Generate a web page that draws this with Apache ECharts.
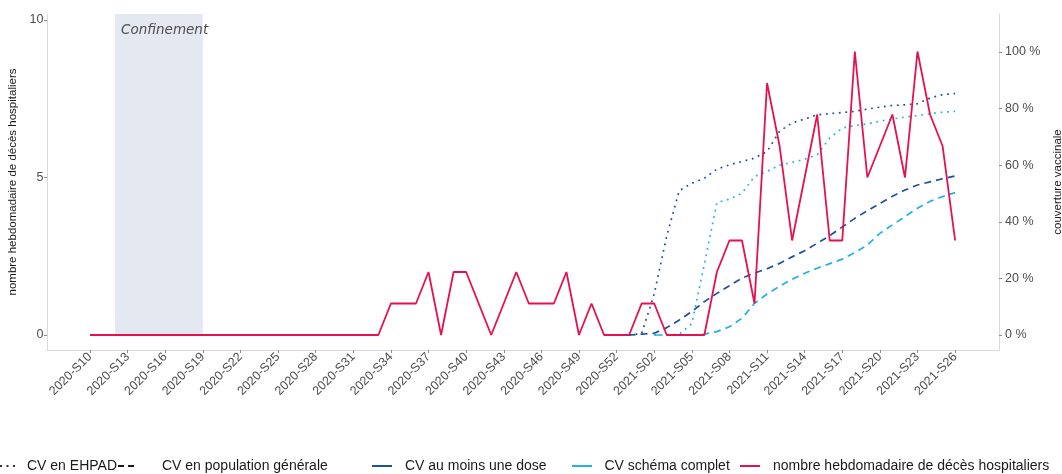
<!DOCTYPE html>
<html><head><meta charset="utf-8">
<script src="https://cdn.jsdelivr.net/npm/echarts@6/dist/echarts.min.js"></script>
<style>html,body{margin:0;padding:0;background:#fff}#c{width:1062px;height:474px}</style>
</head><body><div id="c"></div>
<script>
// ---- categories (ISO weeks) ----
const weeks = [
 '2020-S10','2020-S11','2020-S12','2020-S13','2020-S14','2020-S15','2020-S16','2020-S17','2020-S18','2020-S19',
 '2020-S20','2020-S21','2020-S22','2020-S23','2020-S24','2020-S25','2020-S26','2020-S27','2020-S28','2020-S29',
 '2020-S30','2020-S31','2020-S32','2020-S33','2020-S34','2020-S35','2020-S36','2020-S37','2020-S38','2020-S39',
 '2020-S40','2020-S41','2020-S42','2020-S43','2020-S44','2020-S45','2020-S46','2020-S47','2020-S48','2020-S49',
 '2020-S50','2020-S51','2020-S52','2020-S53','2021-S01','2021-S02','2021-S03','2021-S04','2021-S05','2021-S06',
 '2021-S07','2021-S08','2021-S09','2021-S10','2021-S11','2021-S12','2021-S13','2021-S14','2021-S15','2021-S16',
 '2021-S17','2021-S18','2021-S19','2021-S20','2021-S21','2021-S22','2021-S23','2021-S24','2021-S25','2021-S26'
];
const tickWeeks = ['2020-S10','2020-S13','2020-S16','2020-S19','2020-S22','2020-S25','2020-S28','2020-S31',
 '2020-S34','2020-S37','2020-S40','2020-S43','2020-S46','2020-S49','2020-S52','2021-S02','2021-S05','2021-S08',
 '2021-S11','2021-S14','2021-S17','2021-S20','2021-S23','2021-S26'];
const confinement = ['2020-S12','2020-S19'];

// ---- weekly hospital deaths ----
const deaths = [
 0,0,0,0,0,0,0,0,0,0,
 0,0,0,0,0,0,0,0,0,0,
 0,0,0,0,1,1,1,2,0,2,
 2,1,0,1,2,1,1,1,2,0,
 1,0,0,0,1,1,0,0,0,0,
 2,3,3,1,8,6,3,5,7,3,
 3,9,5,6,7,5,9,7,6,3
];

// ---- vaccine coverage (%) from 2020-S52 ----
const vacWeeks = weeks.slice(weeks.indexOf('2020-S52'));
const cvEhpadDose = [null,0,0.5,14.5,35,51,53.6,55.4,58.6,60.1,61.3,62.5,64.8,72,
 74.9,76.3,77.8,78.2,78.6,79.0,79.8,80.5,81.1,81.3,81.7,83.7,84.9,85.3];
const cvEhpadComplet = [null,null,null,0,0,0.3,4,25,46.8,48,50.1,56,57.8,60,
 61,62.1,63.7,69.6,73.1,74,74.6,75.5,76.3,77,77.5,78.2,78.7,79];
const cvPopDose = [0,0,0.3,0.6,2.6,5.3,8.3,11.8,14.7,17.4,20.1,21.9,23.4,25.3,
 27.6,29.8,32.4,35.1,38.2,41.2,43.9,46.5,49,51.2,53,54.1,55.2,56.2];
const cvPopComplet = [null,null,null,0,0,0,0,0.3,1.2,2.9,5.9,11.2,14.5,17.2,
 19.7,21.8,23.6,25.2,26.8,29.1,31.8,35.9,38.9,41.8,44.8,47.2,48.9,50.3];

const Y_LEFT = {min: -0.476, max: 10.19};
const Y_RIGHT = {min: -5.3, max: 113.4};
const X_RANGE = {min: -3.43, max: 72.5};

const DARK = '#1f4f9f', LIGHT = '#22b1e6', RED = '#e6114f';
const DOTTED = [1.8, 4.7], DASHED = [7, 5];
const FONT = 'Liberation Sans, Arial, sans-serif';
const ICON_DOTTED = 'path://M0,0h2v2h-2z M6.5,0h2v2h-2z M13,0h2v2h-2z';
const ICON_DASHED = 'path://M0,0h6v2h-6z M10,0h6v2h-6z';
const ICON_SOLID = 'path://M0,0h20v2h-20z';

const idx = w => weeks.indexOf(w);
const pairs = (cats, vals) => cats.map((w, k) => [idx(w), vals[k]]).filter(p => p[1] !== null);

const chart = echarts.init(document.getElementById('c'), null, {renderer: 'canvas'});

function vacSeries(name, vals, color, dash, z) {
  return {
    name, type: 'line', yAxisIndex: 1, data: pairs(vacWeeks, vals),
    symbol: 'none', z, silent: true,
    lineStyle: {color, width: 1.7, type: dash},
    itemStyle: {color}
  };
}
function dummy(name, color) {
  return {name, type: 'line', data: [], symbol: 'none', lineStyle: {color}, itemStyle: {color}};
}
function legendItem(name, left, iw, pad, icon) {
  return {
    data: [{name, icon}], left, top: 459, itemWidth: iw, itemHeight: 2, padding: 0,
    selectedMode: false,
    textStyle: {fontSize: 14, color: '#1a1a1a', fontFamily: FONT, padding: [0, 0, 0, pad]}
  };
}

const axisLineStyle = {color: '#d9d9d9', width: 1};
const tickStyle = {color: '#8c8c8c', width: 1};

chart.setOption({
  animation: false,
  backgroundColor: '#fff',
  grid: {left: 47, right: 63, top: 14, bottom: 124, outerBoundsMode: 'none', containLabel: false},
  legend: [
    legendItem('CV en EHPAD', 0, 15, 7, ICON_DOTTED),
    legendItem('CV en population générale', 118, 16, 23, ICON_DASHED),
    legendItem('CV au moins une dose', 372, 20, 8, ICON_SOLID),
    legendItem('CV schéma complet', 572, 21, 7, ICON_SOLID),
    legendItem('nombre hebdomadaire de décès hospitaliers', 740, 20, 8, ICON_SOLID)
  ],
  xAxis: {
    type: 'value', min: X_RANGE.min, max: X_RANGE.max,
    splitLine: {show: false},
    axisLine: {show: true, onZero: false, lineStyle: axisLineStyle},
    axisTick: {show: true, length: 3, lineStyle: tickStyle, customValues: tickWeeks.map(idx)},
    axisLabel: {
      customValues: tickWeeks.map(idx), rotate: 45, margin: 5,
      formatter: v => weeks[Math.round(v)], fontSize: 12.5, color: '#4d4d4d', fontFamily: FONT
    }
  },
  yAxis: [
    {
      type: 'value', min: Y_LEFT.min, max: Y_LEFT.max, position: 'left',
      name: 'nombre hebdomadaire de décès hospitaliers', nameLocation: 'middle', nameRotate: 90, nameGap: 21,
      nameTextStyle: {fontSize: 11.5, color: '#1a1a1a', fontFamily: FONT},
      splitLine: {show: false},
      axisLine: {show: true, onZero: false, lineStyle: axisLineStyle},
      axisTick: {show: true, length: 3, lineStyle: tickStyle, customValues: [0, 5, 10]},
      axisLabel: {customValues: [0, 5, 10], margin: 3.5, fontSize: 12.5, color: '#4d4d4d', fontFamily: FONT}
    },
    {
      type: 'value', min: Y_RIGHT.min, max: Y_RIGHT.max, position: 'right',
      name: 'couverture vaccinale', nameLocation: 'middle', nameRotate: 90, nameGap: 50,
      nameTextStyle: {fontSize: 11.5, color: '#1a1a1a', fontFamily: FONT},
      splitLine: {show: false},
      axisLine: {show: true, onZero: false, lineStyle: axisLineStyle},
      axisTick: {show: true, length: 3, lineStyle: tickStyle, customValues: [0, 20, 40, 60, 80, 100]},
      axisLabel: {customValues: [0, 20, 40, 60, 80, 100], margin: 6, formatter: '{value} %',
        fontSize: 12.5, color: '#4d4d4d', fontFamily: FONT}
    }
  ],
  series: [
    dummy('CV en EHPAD', '#333333'),
    dummy('CV en population générale', '#1a1a1a'),
    dummy('CV au moins une dose', DARK),
    dummy('CV schéma complet', LIGHT),
    vacSeries('EHPAD au moins une dose', cvEhpadDose, DARK, DOTTED, 3),
    vacSeries('EHPAD schéma complet', cvEhpadComplet, LIGHT, DOTTED, 4),
    vacSeries('Population au moins une dose', cvPopDose, DARK, DASHED, 5),
    vacSeries('Population schéma complet', cvPopComplet, LIGHT, DASHED, 6),
    {
      name: 'nombre hebdomadaire de décès hospitaliers', type: 'line', yAxisIndex: 0, z: 8,
      data: deaths.map((v, i) => [i, v]), symbol: 'none', silent: true,
      lineStyle: {color: RED, width: 1.8}, itemStyle: {color: RED},
      markArea: {
        silent: true, z: 1,
        itemStyle: {color: '#e4e8f1'},
        label: {show: true, formatter: 'Confinement', position: [6, 9],
          fontFamily: 'DejaVu Sans', fontStyle: 'italic', fontSize: 13.5, color: '#4d4d4d'},
        data: [[{xAxis: idx(confinement[0]), yAxis: 0}, {xAxis: idx(confinement[1]), yAxis: Y_LEFT.max}]]
      }
    }
  ]
});
</script></body></html>
